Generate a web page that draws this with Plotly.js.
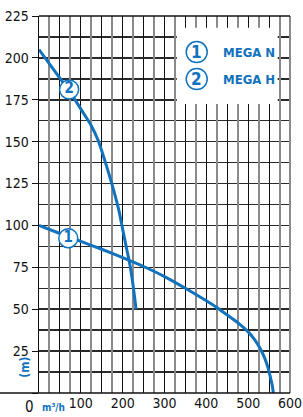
<!DOCTYPE html>
<html>
<head>
<meta charset="utf-8">
<script src="https://cdn.plot.ly/plotly-3.0.1.min.js"></script>
<style>html,body{margin:0;padding:0;background:#fff;}#chart{width:303px;height:417px;}</style>
</head>
<body>
<div id="chart"></div>
<script>
// ---- data ----
const megaH_x = [0, 35, 70, 105, 125, 141, 157, 174, 190, 201, 210, 217, 225, 232];
const megaH_y = [205, 193, 181, 167.5, 159.5, 151, 139, 125, 110, 96.5, 85.5, 77, 64, 50];
const megaN_x = [0, 50, 100, 150, 200, 250, 300, 350, 400, 425, 450, 475, 500, 515, 530, 540, 548, 554, 558, 560];
const megaN_y = [100, 95.2, 90.5, 85.8, 80.8, 75.5, 69.5, 62.5, 55, 51, 46.5, 42, 36.5, 32, 26, 20.5, 14.5, 8.5, 4, 0];
const seriesNames = ["MEGA N", "MEGA H"];
const seriesIds = ["1", "2"];
const curveLabelX = [70, 72];
const curveLabelY = [92.4, 181.2];
const legendMarkX = [377, 377];
const legendMarkY = [203.5, 187.4];
const legendTextX = 436;
const xTickVals = [0, 50, 100, 150, 200, 250, 300, 350, 400, 450, 500, 550, 600];
const xTickText = ["", "", "100", "", "200", "", "300", "", "400", "", "500", "", "600"];
const xGridOdd = [25, 75, 125, 175, 225, 275, 325, 375, 425, 475, 525, 575];
const yTickVals = [0, 25, 50, 75, 100, 125, 150, 175, 200, 225];
const yTickText = ["", "25", "50", "75", "100", "125", "150", "175", "200", "225"];
const yGridMinor = [12.5, 37.5, 62.5, 87.5, 112.5, 137.5, 162.5, 187.5, 212.5];
const xUnit = "m³/h";
const yUnit = "(m)";
const originLabel = "0";

const BLUE = "#1172bd";
const FONT = "Liberation Sans Narrow, DejaVu Sans Condensed, Arial Narrow, sans-serif";

const traces = [
  {x: megaN_x, y: megaN_y, mode: "lines", line: {color: BLUE, width: 3, shape: "spline", smoothing: 0.8}, hoverinfo: "skip"},
  {x: megaH_x, y: megaH_y, mode: "lines", line: {color: BLUE, width: 3, shape: "spline", smoothing: 0.8}, hoverinfo: "skip"},
  {x: curveLabelX, y: curveLabelY, mode: "markers+text", text: seriesIds, textposition: "middle center",
   textfont: {family: FONT, size: 15, color: BLUE, weight: "bold"},
   marker: {size: 19, color: "#fff", line: {color: BLUE, width: 1.5}}, hoverinfo: "skip", xaxis: "x2"}
];

const annotations = [];
seriesNames.forEach((n, i) => {
  annotations.push({x: legendTextX, y: legendMarkY[i], xref: "x", yref: "y", text: n, showarrow: false,
    xanchor: "left", yanchor: "middle", font: {family: FONT, size: 13, color: BLUE, weight: "bold"}});
  annotations.push({x: legendMarkX[i], y: legendMarkY[i], xref: "x", yref: "y", text: seriesIds[i], showarrow: false,
    xanchor: "center", yanchor: "middle", font: {family: FONT, size: 17, color: BLUE, weight: "bold"}});
});
annotations.push({x: -0.036, y: -0.038, xref: "paper", yref: "paper", text: originLabel, showarrow: false,
  xanchor: "center", yanchor: "middle", font: {family: FONT, size: 15, color: "#111"}});
annotations.push({x: 0.004, y: -0.038, xref: "paper", yref: "paper", text: xUnit, showarrow: false,
  xanchor: "left", yanchor: "middle", font: {family: FONT, size: 10, color: BLUE, weight: "bold"}});
annotations.push({x: -0.056, y: 15.6, xref: "paper", yref: "y", text: yUnit, showarrow: false, textangle: -90,
  xanchor: "center", yanchor: "middle", font: {family: FONT, size: 12, color: BLUE, weight: "bold"}});

const shapes = [
  {type: "rect", xref: "paper", yref: "paper", x0: 0.549, x1: 0.951, y0: 0.7667, y1: 0.9689, fillcolor: "#fff", line: {width: 0}, layer: "above"},
  {type: "line", xref: "paper", yref: "paper", x0: 1, x1: 1, y0: 0, y1: 1, line: {color: "#8a8a8a", width: 2}, layer: "above"},
  {type: "line", xref: "paper", yref: "paper", x0: -0.16, x1: 1, y0: 0, y1: 0, line: {color: "#111", width: 1.5}, layer: "above"},
  {type: "line", xref: "paper", yref: "paper", x0: 0, x1: 1, y0: 1, y1: 1, line: {color: "#111", width: 1.5}, layer: "above"}
];
legendMarkX.forEach((mx, i) => {
  shapes.push({type: "circle", xref: "x", yref: "y", xsizemode: "pixel", ysizemode: "pixel",
    xanchor: mx, yanchor: legendMarkY[i], x0: -10.5, x1: 10.5, y0: -10.5, y1: 10.5,
    fillcolor: "#fff", line: {color: BLUE, width: 1.5}, layer: "above"});
});

const layout = {
  width: 303, height: 417,
  margin: {l: 39, r: 12.5, t: 16, b: 24},
  paper_bgcolor: "#fff", plot_bgcolor: "#fff",
  showlegend: false,
  font: {family: FONT, size: 14, color: "#111"},
  xaxis: {
    range: [0, 600], tickmode: "array", tickvals: xTickVals, ticktext: xTickText,
    ticks: "", tickfont: {family: FONT, size: 14, color: "#111"},
    showgrid: true, gridcolor: "#111", gridwidth: 1, zeroline: false, showline: false,
    fixedrange: true
  },
  xaxis2: {
    range: [0, 600], overlaying: "x", anchor: "y", side: "bottom",
    tickmode: "array", tickvals: xGridOdd, showticklabels: false, ticks: "",
    showgrid: true, gridcolor: "#8a8a8a", gridwidth: 2, zeroline: false, showline: false,
    fixedrange: true
  },
  yaxis: {
    range: [0, 225], tickmode: "array", tickvals: yTickVals, ticktext: yTickText,
    ticks: "outside", ticklen: 6, tickcolor: "#111", tickwidth: 1,
    tickfont: {family: FONT, size: 14, color: "#111"},
    showgrid: true, gridcolor: "#2a2a2a", gridwidth: 1.5, zeroline: false,
    showline: true, linecolor: "#111", linewidth: 1.5,
    minor: {tickmode: "array", tickvals: yGridMinor, showgrid: true, gridcolor: "#2a2a2a", gridwidth: 1.5, ticks: ""},
    fixedrange: true
  },
  shapes: shapes,
  annotations: annotations
};

Plotly.newPlot("chart", traces, layout, {staticPlot: true, displayModeBar: false});
</script>
</body>
</html>
